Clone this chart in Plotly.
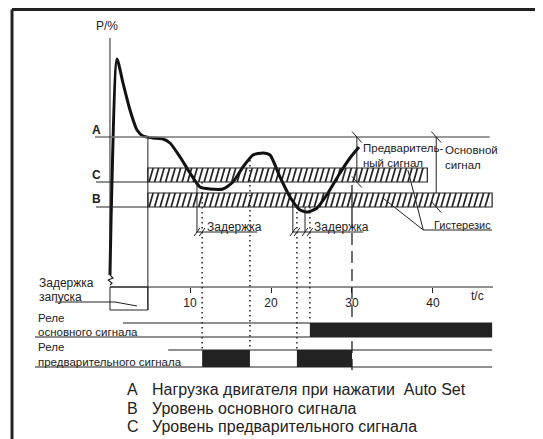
import plotly.graph_objects as go

# ---------------- data ----------------
t_curve = [0.12, 0.25, 0.99, 1.73, 2.59, 3.46, 4.2, 5.43, 6.67, 7.53, 8.77, 10.0, 11.23,
           12.47, 14.07, 15.31, 16.54, 17.78, 19.01, 19.88, 21.11, 22.35, 23.58, 24.57,
           25.68, 27.04, 28.52, 29.75, 30.86]
p_curve = [6, 33.5, 114, 102, 88.5, 78.5, 75.5, 74.5, 74, 72, 65, 57, 50,
           49, 49, 52.5, 60, 66, 67, 66, 55, 45, 38.5, 37.5,
           39.5, 47, 57, 64.5, 70]

level_A = 75.0      # Нагрузка при Auto Set
level_C = 52.5      # предварительный сигнал
level_B = 40.0      # основной сигнал
hyst = 7.0          # гистерезис

start_delay = 4.8            # задержка запуска, с
band_C_end = 39.3
band_B_end = 47.3
t_end = 47.3

pre_on = [11.5, 23.2]        # реле предварительного сигнала
pre_off = [17.4, 30.0]
main_on = [24.8]             # реле основного сигнала
main_off = [47.3]

delay1_start, delay1_end = 10.86, 11.5
delay2_marks = [22.7, 24.2]
delay2_dots = [23.2, 24.8]

xticks = [10, 20, 30, 40]
legend_letters = ["A", "B", "C"]
legend_texts = ["Нагрузка двигателя при нажатии  Auto Set",
                "Уровень основного сигнала",
                "Уровень предварительного сигнала"]

# ---------------- layout constants ----------------
X_RANGE = [-12.47, 54.57]
Y_RANGE = [-80.0, 139.5]
FONT = "Liberation Sans, Arial, sans-serif"
INK = "#222222"
LBL = 12

main_row = (-25.0, -18.0)
pre_row = (-40.0, -31.5)

fig = go.Figure()
shapes = []
annotations = []


def seg(x0, y0, x1, y1, color=INK, width=1, dash=None):
    ln = dict(color=color, width=width)
    if dash:
        ln["dash"] = dash
    shapes.append(dict(type="line", xref="x", yref="y", x0=x0, y0=y0, x1=x1, y1=y1, line=ln))


def ann(text, x, y, size=LBL, xanchor="center", yanchor="middle", xref="x", yref="y"):
    annotations.append(dict(text=text, x=x, y=y, xref=xref, yref=yref, showarrow=False,
                            xanchor=xanchor, yanchor=yanchor, align="left",
                            font=dict(family=FONT, size=size, color=INK)))


def arch_tick(t, p):
    seg(t - 0.6, p + 2.75, t + 0.6, p - 2.75, width=1)


# hysteresis bands: outline + hatching
hx, hy = [], []
for lo, end in [(level_C, band_C_end), (level_B, band_B_end)]:
    hi = lo + hyst
    shapes.append(dict(type="rect", xref="x", yref="y", x0=start_delay, x1=end, y0=lo, y1=hi,
                       line=dict(color=INK, width=1.2), fillcolor="rgba(0,0,0,0)"))
    s = start_delay + 0.15
    while s + 0.5 <= end:
        hx += [s, s + 0.5, None]
        hy += [lo, hi, None]
        s += 0.68
fig.add_trace(go.Scatter(x=hx, y=hy, mode="lines", line=dict(color=INK, width=1.7),
                         hoverinfo="skip", showlegend=False))

# level lines
seg(-1.73, level_A, 47.0, level_A, color="#777777", width=1.5)
seg(-1.6, level_C, start_delay, level_C, width=1.2)
seg(-1.6, level_B, start_delay, level_B, width=1.2)

# axes
seg(0.12, 124.5, 0.12, 6, width=1)
fig.add_trace(go.Scatter(x=[0.12, 0.49, -0.12, 0.37, 0.12], y=[6, 4.5, 3.5, 2, 1], mode="lines",
                         line=dict(color=INK, width=1.2), hoverinfo="skip", showlegend=False))
seg(0.12, 0, 47.4, 0, width=1.2)

# start delay box
seg(start_delay, level_A, start_delay, -11.5, width=1)
shapes.append(dict(type="rect", xref="x", yref="y", x0=0.12, x1=start_delay, y0=-11.5, y1=0,
                   line=dict(color=INK, width=1)))
fig.add_trace(go.Scatter(x=[-6.67, 0.74, 3.46], y=[-7.5, -7.5, -9.5], mode="lines",
                         line=dict(color=INK, width=1), hoverinfo="skip", showlegend=False))

# load curve
fig.add_trace(go.Scatter(x=t_curve, y=p_curve, mode="lines",
                         line=dict(color="#111111", width=3, shape="spline", smoothing=0.6),
                         hoverinfo="skip", showlegend=False))

# dimension lines
seg(30.6, level_A, 30.6, level_C, width=1)
arch_tick(30.6, level_A)
arch_tick(30.6, level_C)
seg(40.4, level_A, 40.4, level_B + hyst, width=1)
arch_tick(40.4, level_A)
arch_tick(40.4, level_B)

# hysteresis leaders
seg(38.8, 28.5, 47.3, 28.5, width=1)
seg(38.8, 28.5, 33.8, 44.5, width=1)
seg(38.8, 28.5, 36.9, 58.5, width=1)

# delay markers
DOT = "1.5px,3.5px"
seg(delay1_start, level_C, delay1_start, 27.5, width=1)
seg(delay1_start, 27.5, 18.3, 27.5, width=1)
for m in delay2_marks:
    seg(m, level_B, m, 27.5, width=1)
seg(delay2_marks[0], 27.5, 31.4, 27.5, width=1)
for m in [delay1_start, delay1_end]:
    seg(m - 0.35, 25.5, m + 0.35, 29.5, width=1)
for m in delay2_marks + delay2_dots:
    seg(m - 0.35, 25.5, m + 0.35, 29.5, width=1)

seg(pre_on[0], level_C, pre_on[0], pre_row[1], width=1.5, dash=DOT)
seg(pre_off[0], 63.5, pre_off[0], pre_row[1], width=1.5, dash=DOT)
seg(pre_on[1], level_B, pre_on[1], pre_row[1], width=1.5, dash=DOT)
seg(main_on[0], level_B, main_on[0], main_row[1] + 2, width=1.5, dash=DOT)

# t = 30 line
seg(pre_off[1], 51, pre_off[1], 36, width=1.3)
seg(pre_off[1], 36, pre_off[1], -41.5, width=1.3, dash="12px,6px")

# relay bars
for (lo, hi), ons, offs in [(main_row, main_on, main_off), (pre_row, pre_on, pre_off)]:
    fig.add_trace(go.Bar(orientation="h", y=[(lo + hi) / 2] * len(ons),
                         x=[b - a for a, b in zip(ons, offs)], base=ons, width=hi - lo,
                         marker=dict(color=INK, line=dict(width=0)),
                         hoverinfo="skip", showlegend=False))
seg(1.73, main_row[1], t_end, main_row[1], width=1.2)
seg(-9.14, main_row[0], t_end, main_row[0], width=1.2)
seg(7.3, pre_row[1], t_end, pre_row[1], width=1.2)
seg(-9.14, pre_row[0], t_end, pre_row[0], width=1.2)

# texts
ann("P/%", -0.25, 130.5, size=12)
ann("<b>A</b>", -1.6, 78.5, size=12)
ann("<b>C</b>", -1.6, 56, size=12)
ann("<b>B</b>", -1.6, 44, size=12)
ann("Предваритель-<br>ный сигнал", 31.1, 65.75, size=11.5, xanchor="left")
ann("Основной<br>сигнал", 41.2, 64.75, size=11.5, xanchor="left")
ann("Гистерезис", 39.9, 31.2, size=11, xanchor="left")
ann("Задержка", 11.85, 30.2, xanchor="left")
ann("Задержка", 25.06, 30.2, xanchor="left")
ann("Задержка", -8.9, 2.0, xanchor="left")
ann("запуска", -8.9, -5.0, xanchor="left")
ann("t/c", 45.5, -4.5, size=12)
ann("Реле", -9.0, -15.5, size=11.5, xanchor="left")
ann("основного сигнала", -9.0, -22.5, size=11.5, xanchor="left")
ann("Реле", -9.0, -30.0, size=11.5, xanchor="left")
ann("предварительного сигнала", -9.0, -37.5, size=11.5, xanchor="left")
for i, (l, txt) in enumerate(zip(legend_letters, legend_texts)):
    py = [-51, -60.5, -69.5][i]
    ann(l, 2.96, py, size=16)
    ann(txt, 5.06, py, size=16, xanchor="left")

# frame
shapes.append(dict(type="line", xref="paper", yref="paper", x0=0.0074, x1=1, y0=0.9966, y1=0.9966,
                   line=dict(color=INK, width=3)))
shapes.append(dict(type="line", xref="paper", yref="paper", x0=0.0074, x1=0.0074, y0=0, y1=0.9966,
                   line=dict(color=INK, width=3)))

fig.update_layout(
    width=543, height=439, margin=dict(l=0, r=0, t=0, b=0),
    paper_bgcolor="white", plot_bgcolor="white",
    shapes=shapes, annotations=annotations, barmode="overlay", showlegend=False,
    xaxis=dict(range=X_RANGE, showgrid=False, zeroline=False, showline=False,
               tickvals=xticks, ticktext=[str(v) for v in xticks], ticks="outside",
               ticklen=5, tickcolor=INK, tickwidth=1,
               tickfont=dict(family=FONT, size=12, color=INK),
               anchor="free", position=(0 - Y_RANGE[0]) / (Y_RANGE[1] - Y_RANGE[0]),
               fixedrange=True),
    yaxis=dict(range=Y_RANGE, visible=False, fixedrange=True),
)

fig.write_html("out.html")
